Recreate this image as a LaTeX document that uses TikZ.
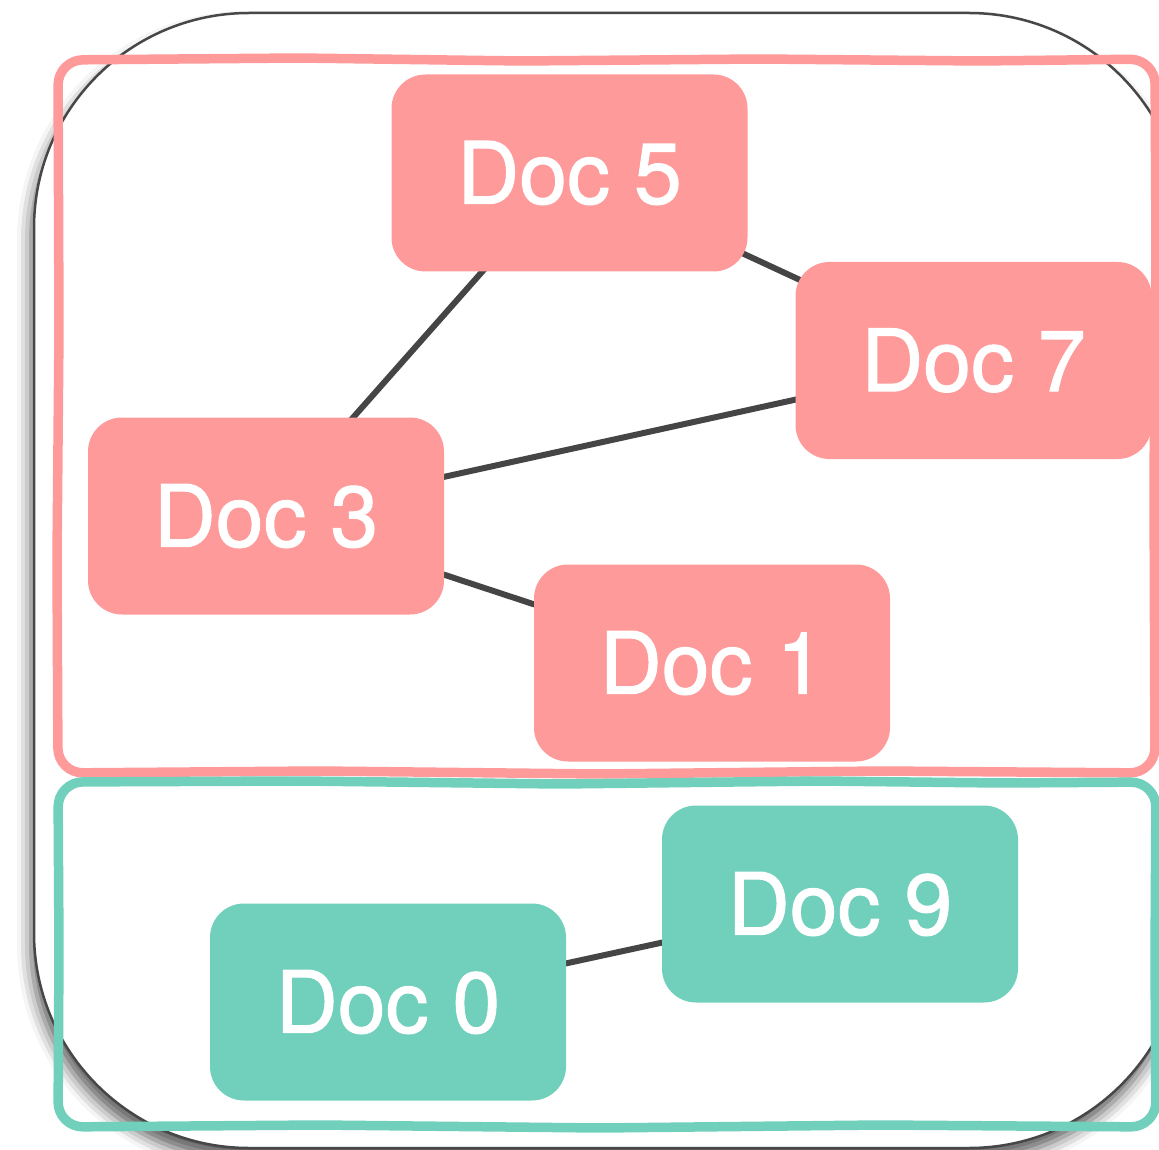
\documentclass[tikz,border=0pt]{standalone}
\usepackage{fontspec}
\setmainfont{TeX Gyre Heros}
\newfontfamily\docfont{TeX Gyre Heros}[FakeBold=1.2]
\usetikzlibrary{shadows.blur}
\definecolor{docpink}{HTML}{FF9A9B}
\definecolor{docteal}{HTML}{70D0BC}
\definecolor{edgegray}{HTML}{454545}
\pgfdeclarelayer{bg}
\pgfsetlayers{bg,main}
\begin{document}
\begin{tikzpicture}[x=1pt,y=-1pt,
  docnode/.style={rectangle, rounded corners=34pt, minimum width=356pt, minimum height=197pt,
    inner sep=0pt, text=white, font=\docfont\fontsize{86}{86}\selectfont},
  pinknode/.style={docnode, fill=docpink},
  tealnode/.style={docnode, fill=docteal},
  link/.style={draw=edgegray, line width=6pt},
  sketchy/.style={line width=9.5pt, rounded corners=25pt, line join=round},
  outerbox/.style={draw=black!72, line width=2.5pt, fill=white, rounded corners=215pt,
    blur shadow={shadow xshift=-3pt, shadow yshift=-12pt, shadow blur radius=14pt, shadow opacity=65}}]
\useasboundingbox (0,0) rectangle (1159,1150);
\clip (0,0) rectangle (1159,1150);

\node[pinknode] (d5) at (569.5,173) {Doc 5};
\node[pinknode] (d7) at (973.5,360.5) {Doc 7};
\node[pinknode] (d3) at (266,516) {Doc 3};
\node[pinknode] (d1) at (712,663) {Doc 1};
\node[tealnode] (d9) at (840,904) {Doc 9};
\node[tealnode] (d0) at (388,1002) {Doc 0};

\begin{pgfonlayer}{bg}
  \path[outerbox] (34,13) rectangle (1184,1148);
  \draw[sketchy, draw=docpink]
    (300,58) -- (520,61) -- (760,59) -- (980,61) -- (1155,59)
    -- (1156,250) -- (1154,480) -- (1155,773)
    -- (880,771) -- (600,774) -- (320,771) -- (58,773)
    -- (57,560) -- (59,330) -- (58,60) -- cycle;
  \draw[sketchy, draw=docteal]
    (300,781) -- (560,784) -- (820,781) -- (1000,783) -- (1156,782)
    -- (1155,960) -- (1156,1127)
    -- (880,1125) -- (600,1128) -- (320,1125) -- (58,1127)
    -- (59,950) -- (58,782) -- cycle;
  \draw[link] (d5.center) -- (d3.center);
  \draw[link] (d5.center) -- (d7.center);
  \draw[link] (d3.center) -- (d7.center);
  \draw[link] (d3.center) -- (d1.center);
  \draw[link] (d0.center) -- (d9.center);
\end{pgfonlayer}
\end{tikzpicture}
\end{document}
